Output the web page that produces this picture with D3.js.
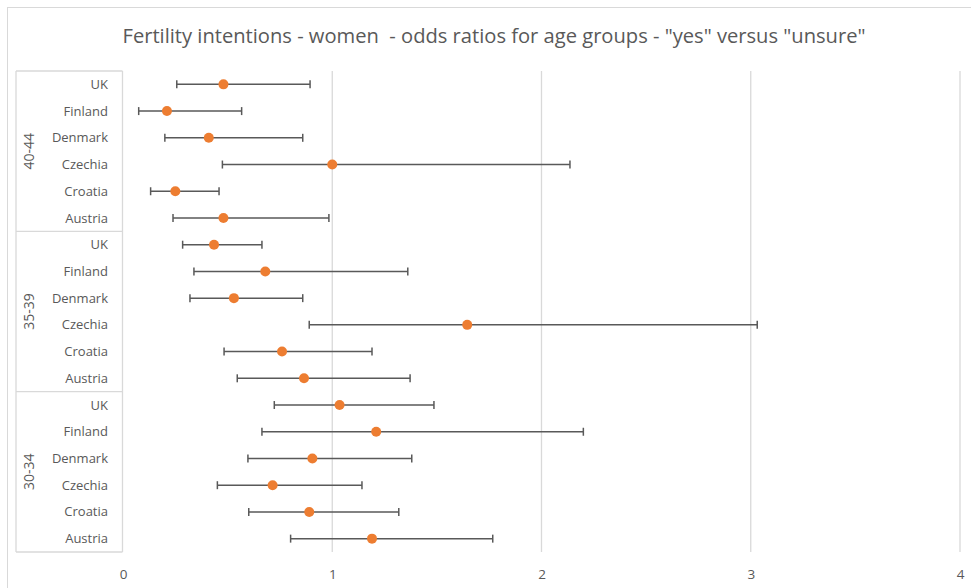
<!DOCTYPE html>
<html>
<head>
<meta charset="utf-8">
<script src="https://cdn.jsdelivr.net/npm/d3@7"></script>
<style>
  body { margin: 0; background: #fff; }
  text { font-family: "Open Sans", "Noto Sans", sans-serif; fill: #595959; }
</style>
</head>
<body>
<div id="chart-area"></div>
<script>
// rows top to bottom
var groups = ["40-44", "35-39", "30-34"];
var countries = ["UK", "Finland", "Denmark", "Czechia", "Croatia", "Austria"];

var oddsRatio = [0.48, 0.21, 0.41, 1.00, 0.25, 0.48,
                 0.435, 0.68, 0.53, 1.645, 0.76, 0.865,
                 1.035, 1.21, 0.905, 0.715, 0.89, 1.19];
var ciLow     = [0.257, 0.075, 0.20, 0.475, 0.132, 0.239,
                 0.285, 0.339, 0.32, 0.89, 0.483, 0.546,
                 0.723, 0.664, 0.597, 0.451, 0.601, 0.801];
var ciHigh    = [0.894, 0.567, 0.859, 2.136, 0.459, 0.984,
                 0.664, 1.361, 0.859, 3.031, 1.19, 1.372,
                 1.486, 2.20, 1.38, 1.142, 1.318, 1.767];
var xTicks = [0, 1, 2, 3, 4];

var data = [];
groups.forEach(function(g, gi) {
	countries.forEach(function(c, ci) {
		var i = gi * countries.length + ci;
		data.push({key: g + "|" + c, group: g, country: c,
			or: oddsRatio[i], lo: ciLow[i], hi: ciHigh[i]});
	});
});

var W = 971, H = 588;
var svg = d3.select("#chart-area")
	.append("svg")
		.attr("width", W)
		.attr("height", H);

// chart frame
svg.append("rect")
	.attr("x", 7.5).attr("y", 7.5)
	.attr("width", W).attr("height", H)
	.attr("fill", "none")
	.attr("stroke", "#d9d9d9");

svg.append("text")
	.attr("x", 494).attr("y", 43)
	.attr("text-anchor", "middle")
	.attr("font-size", 20)
	.attr("textLength", 743)
	.attr("lengthAdjust", "spacingAndGlyphs")
	.style("white-space", "pre")
	.text('Fertility intentions - women  - odds ratios for age groups - "yes" versus "unsure"');

var plot = {left: 123, right: 960, top: 71, bottom: 552};

var x = d3.scaleLinear()
	.domain([0, 4])
	.range([plot.left, plot.right]);

var y = d3.scaleBand()
	.domain(data.map(function(d) { return d.key; }))
	.range([plot.top, plot.bottom]);

// gridlines
svg.append("g").selectAll("line")
	.data(xTicks.slice(1))
	.enter().append("line")
		.attr("x1", function(d) { return x(d); })
		.attr("x2", function(d) { return x(d); })
		.attr("y1", plot.top)
		.attr("y2", plot.bottom)
		.attr("stroke", "#d9d9d9")
		.attr("stroke-width", 1.3);

// x tick labels
var xAxis = d3.axisBottom(x).tickValues(xTicks).tickSize(0).tickPadding(0).tickFormat(d3.format("d"));
var xg = svg.append("g")
	.attr("transform", "translate(0," + 569 + ")")
	.call(xAxis);
xg.select(".domain").remove();
xg.selectAll("text")
	.attr("font-size", 13.5)
	.attr("fill", "#595959")
	.style("font-family", "'Open Sans', sans-serif");

// category box
var boxLeft = 16, boxRight = 122.5;
var box = svg.append("g").attr("stroke", "#d9d9d9").attr("stroke-width", 1.3);
box.append("line")
	.attr("x1", boxLeft).attr("x2", boxLeft)
	.attr("y1", plot.top).attr("y2", plot.bottom);
box.append("line")
	.attr("x1", boxRight).attr("x2", boxRight)
	.attr("y1", plot.top).attr("y2", plot.bottom);
var groupEdges = groups.map(function(g) { return y(g + "|" + countries[0]); });
groupEdges.push(plot.bottom);
box.selectAll(".sep")
	.data(groupEdges)
	.enter().append("line")
		.attr("x1", boxLeft).attr("x2", boxRight)
		.attr("y1", function(d) { return d; })
		.attr("y2", function(d) { return d; });

// country labels
svg.append("g").selectAll("text")
	.data(data)
	.enter().append("text")
		.attr("x", 108)
		.attr("y", function(d) { return y(d.key) + y.bandwidth() / 2; })
		.attr("dy", "0.35em")
		.attr("text-anchor", "end")
		.attr("font-size", 13)
		.text(function(d) { return d.country; });

// group labels
svg.append("g").selectAll("text")
	.data(groups)
	.enter().append("text")
		.attr("transform", function(g, i) {
			var cy = (groupEdges[i] + groupEdges[i + 1]) / 2;
			return "translate(29," + cy + ") rotate(-90)";
		})
		.attr("dy", "0.35em")
		.attr("text-anchor", "middle")
		.attr("font-size", 14)
		.text(function(g) { return g; });

// error bars
var bars = svg.append("g")
	.attr("stroke", "#595959")
	.attr("stroke-width", 1.5);
var cy = function(d) { return y(d.key) + y.bandwidth() / 2; };
bars.selectAll(".bar")
	.data(data)
	.enter().append("line")
		.attr("x1", function(d) { return x(d.lo); })
		.attr("x2", function(d) { return x(d.hi); })
		.attr("y1", cy).attr("y2", cy);
bars.selectAll(".capLo")
	.data(data)
	.enter().append("line")
		.attr("x1", function(d) { return x(d.lo); })
		.attr("x2", function(d) { return x(d.lo); })
		.attr("y1", function(d) { return cy(d) - 4; })
		.attr("y2", function(d) { return cy(d) + 4; });
bars.selectAll(".capHi")
	.data(data)
	.enter().append("line")
		.attr("x1", function(d) { return x(d.hi); })
		.attr("x2", function(d) { return x(d.hi); })
		.attr("y1", function(d) { return cy(d) - 4; })
		.attr("y2", function(d) { return cy(d) + 4; });

// points
svg.append("g").selectAll("circle")
	.data(data)
	.enter().append("circle")
		.attr("cx", function(d) { return x(d.or); })
		.attr("cy", cy)
		.attr("r", 5)
		.attr("fill", "#ED7D31");
</script>
</body>
</html>
